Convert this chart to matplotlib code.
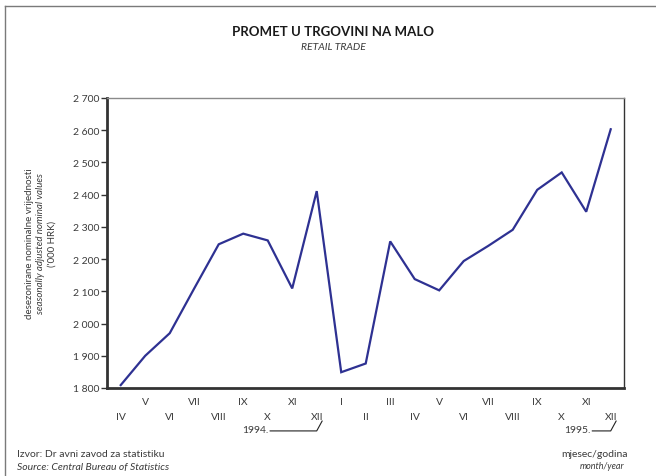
import matplotlib
matplotlib.use("Agg")
import matplotlib.pyplot as plt
from matplotlib.lines import Line2D


MONTHS = ["IV", "V", "VI", "VII", "VIII", "IX", "X", "XI", "XII",
          "I", "II", "III", "IV", "V", "VI", "VII", "VIII", "IX", "X", "XI", "XII"]
VALUES = [1809, 1900, 1970, 2109, 2246, 2279, 2258, 2109, 2411,
          1849, 1876, 2255, 2138, 2103, 2194, 2241, 2291, 2415, 2469, 2347, 2603]
YTICKS = [1800, 1900, 2000, 2100, 2200, 2300, 2400, 2500, 2600, 2700]
YEARS = ["1994.", "1995."]
YEAR_END_IDX = [8, 20]

LINE_COLOR = "#2e3192"
TEXT_COLOR = "#3a3a3a"
FONT = "Lato"

plt.rcParams["font.family"] = [FONT, "DejaVu Sans"]

fig = plt.figure(figsize=(6.56, 4.77), dpi=100)
W, H = 656, 477

# outer frame (top and left edge only, as in the source page)
fig.add_artist(Line2D([5 / W, 1.0], [1 - 7 / H, 1 - 7 / H], transform=fig.transFigure,
                      color="#7a7a7a", lw=1.0))
fig.add_artist(Line2D([5 / W, 5 / W], [0.0, 1 - 7 / H], transform=fig.transFigure,
                      color="#7a7a7a", lw=1.0))

ax = fig.add_axes([107 / W, 1 - 389 / H, (623.7 - 107) / W, (389 - 99) / H])
x = list(range(len(MONTHS)))
ax.plot(x, VALUES, color=LINE_COLOR, lw=1.6, solid_joinstyle="miter")

ax.set_xlim(-0.56, 20.53)
ax.set_ylim(1800, 2700)
ax.set_yticks(YTICKS)
ax.set_yticklabels([f"{v:,}".replace(",", " ") for v in YTICKS])
ax.tick_params(axis="y", direction="out", length=4, width=1.0, color="#333333",
               labelsize=7.5, labelcolor=TEXT_COLOR, pad=1.5)
ax.set_xticks([])

for side in ["left", "bottom"]:
    ax.spines[side].set_linewidth(2.0)
    ax.spines[side].set_color("#333333")
ax.spines["right"].set_linewidth(1.0)
ax.spines["right"].set_color("#333333")
ax.spines["top"].set_linewidth(1.0)
ax.spines["top"].set_color("#8a8a8a")

# two-row month labels
xt = ax.get_xaxis_transform()
for i, m in enumerate(MONTHS):
    y = -0.048 if i % 2 else -0.098
    ax.text(i, y, m, transform=xt, ha="center", va="center",
            fontsize=7.5, color=TEXT_COLOR)

# year markers with a hooked line under the December label
hook_len = [1.9, 0.75]
for label, idx, ln in zip(YEARS, YEAR_END_IDX, hook_len):
    ax.text(idx - ln - 0.05, -0.142, label, transform=xt, ha="right", va="center",
            fontsize=7.5, color=TEXT_COLOR)
    ax.plot([idx - ln, idx, idx + 0.22], [-0.148, -0.148, -0.114],
            transform=xt, color="#222222", lw=0.8, clip_on=False)

# y axis caption
fig.text(29 / W, 1 - 244 / H, "desezonirane nominalne vrijednosti", rotation=90,
         ha="center", va="center", fontsize=7, color=TEXT_COLOR)
fig.text(41 / W, 1 - 244 / H, "seasonally adjusted nominal values", rotation=90,
         ha="center", va="center", fontsize=7, color=TEXT_COLOR, style="italic")
fig.text(52.5 / W, 1 - 244 / H, "('000 HRK)", rotation=90,
         ha="center", va="center", fontsize=7, color=TEXT_COLOR)

# titles
fig.text(333 / W, 1 - 32 / H, "PROMET U TRGOVINI NA MALO", ha="center", va="center",
         fontsize=9.5, fontweight="bold", color="#1a1a1a")
fig.text(333 / W, 1 - 48 / H, "RETAIL TRADE", ha="center", va="center",
         fontsize=7.5, style="italic", color=TEXT_COLOR)

# axis caption bottom right
fig.text(628 / W, 1 - 455 / H, "mjesec/godina", ha="right", va="center",
         fontsize=7.5, color=TEXT_COLOR)
fig.text(624 / W, 1 - 467 / H, "month/year", ha="right", va="center",
         fontsize=6.5, style="italic", color=TEXT_COLOR)

# source
fig.text(17 / W, 1 - 455 / H, "Izvor: Dr avni zavod za statistiku", ha="left", va="center",
         fontsize=7.5, color=TEXT_COLOR)
fig.text(17 / W, 1 - 468 / H, "Source: Central Bureau of Statistics", ha="left", va="center",
         fontsize=7.5, style="italic", color=TEXT_COLOR)

fig.savefig("out.png", dpi=100)
